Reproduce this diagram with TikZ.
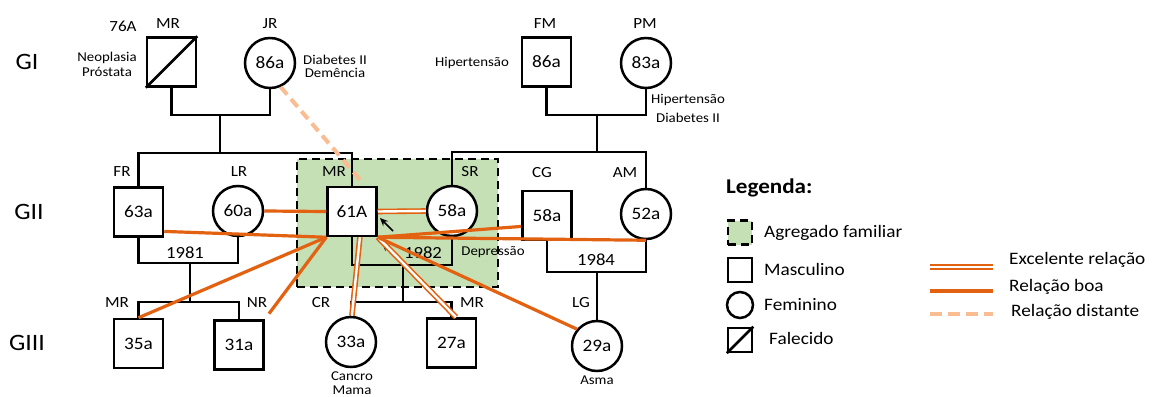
\documentclass[tikz,border=0pt]{standalone}
\usepackage{fontspec}
\setmainfont{Carlito}[FakeStretch=1.1]
\usetikzlibrary{arrows.meta}
\definecolor{rel}{RGB}{226,98,18}
\definecolor{peach}{RGB}{250,188,145}
\definecolor{agr}{RGB}{197,224,180}
\begin{document}
\begin{tikzpicture}[x=1pt,y=-1pt,
  fam/.style={line width=2.5pt},
  sq/.style={draw, line width=2.5pt, fill=white, minimum size=49pt, inner sep=0pt, font=\fontsize{17.5}{20}\selectfont},
  ci/.style={draw, circle, line width=2.5pt, fill=white, minimum size=50pt, inner sep=0pt, font=\fontsize{17.5}{20}\selectfont},
  agrbox/.style={draw, fill=agr, dash pattern=on 8pt off 5pt, line width=2.3pt, inner sep=0pt},
  lab/.style={font=\fontsize{15.5}{18}\selectfont, inner sep=0pt},
  gen/.style={font=\fontsize{23.5}{26}\selectfont, inner sep=0pt},
  note/.style={font=\fontsize{13.5}{16}\selectfont, align=center, inner sep=0pt},
  yr/.style={font=\fontsize{17}{20}\selectfont, inner sep=0pt},
  lt/.style={font=\fontsize{17.5}{20}\selectfont, anchor=west, inner sep=0pt},
  boa/.style={draw=rel, line width=3.2pt},
  exc/.style={draw=rel, line width=1.6pt, double=white, double distance=2.4pt},
  dist/.style={draw=peach, line width=4pt, dash pattern=on 10pt off 6pt},
  arr/.style={draw=black, line width=1.6pt, -{Stealth[length=8pt,width=7pt]}}
]
\fill[white] (0,0) rectangle (1153,396);
\useasboundingbox (0,0) rectangle (1153,396);

% household box
\node[agrbox, minimum width=201pt, minimum height=128pt] (agr) at (397.5,223) {};

% generation labels
\node[gen] (g1) at (27,62) {GI};
\node[gen] (g2) at (29,212) {GII};
\node[gen] (g3) at (27,343) {GIII};

% junction coordinates
\coordinate (u1) at (220,115); \coordinate (s1) at (220,153);
\coordinate (u2) at (597,115); \coordinate (s2) at (597,152);
\coordinate (u3) at (190,263); \coordinate (s3) at (190,302);
\coordinate (u4) at (403,265); \coordinate (s4) at (403,302);
\coordinate (u5) at (597,272);

% persons
\node[sq] (mr1) at (171.5,62) {};
\node[ci] (jr) at (270,63) {86a};
\node[sq] (fm) at (546.5,62) {86a};
\node[ci] (pm) at (646,63) {83a};
\node[sq] (fr) at (138.5,212) {63a};
\node[ci] (lr) at (238,211) {60a};
\node[sq] (mr2) at (352,211.5) {61A};
\node[ci] (sr) at (452,211) {58a};
\node[sq] (cg) at (547,215.5) {58a};
\node[ci] (am) at (646,214) {52a};
\node[sq] (n35) at (138.5,343.5) {35a};
\node[sq] (n31) at (239,345) {31a};
\node[ci] (c33) at (351,342) {33a};
\node[sq] (n27) at (451.5,343) {27a};
\node[ci] (lg) at (597,346) {29a};
\draw[fam] (mr1.south west) -- (mr1.north east);

% family lines
\draw[fam] (mr1.south) |- (u1) -| (jr.south);
\draw[fam] (u1) -- (s1);
\draw[fam] (fr.north) |- (s1) -| (mr2.north);
\draw[fam] (fm.south) |- (u2) -| (pm.south);
\draw[fam] (u2) -- (s2);
\draw[fam] (sr.north) |- (s2) -| (am.north);
\draw[fam] (fr.south) |- (u3) -| (lr.south);
\draw[fam] (u3) -- (s3);
\draw[fam] (n35.north) |- (s3) -| (n31.north);
\draw[fam] (mr2.south) |- (u4) -| (sr.south);
\draw[fam] (u4) -- (s4);
\draw[fam] (c33.north) |- (s4) -| (n27.north);
\draw[fam] (cg.south) |- (u5) -| (am.south);
\draw[fam] (u5) -- (lg.north);

% labels
\node[lab] (t76) at (123,26) {76A};
\node[lab] (tmr1) at (168,24) {MR};
\node[note] (tneo) at (107,64.5) {Neoplasia\\[-1pt]Próstata};
\node[lab] (tjr) at (270,24) {JR};
\node[note, font=\fontsize{13.5}{13}\selectfont] (tdia) at (335,66) {Diabetes II\\Demência};
\node[lab] (tfm) at (545,24) {FM};
\node[note] (thip) at (472,63) {Hipertensão};
\node[lab] (tpm) at (645,24) {PM};
\node[note, font=\fontsize{13.5}{18.5}\selectfont] (thd) at (688,108.5) {Hipertensão\\Diabetes II};
\node[lab] (tfr) at (122,172) {FR};
\node[lab] (tlr) at (239,172) {LR};
\node[lab] (tmr2) at (334,172) {MR};
\node[lab] (tsr) at (470,172) {SR};
\node[lab] (tcg) at (542,173) {CG};
\node[lab] (tam) at (625,173) {AM};
\node[yr] (y81) at (185,253) {1981};
\node[yr] (y82) at (423,253) {1982};
\node[yr] (y84) at (596,260) {1984};
\node[note] (tdep) at (493,252) {Depressão};
\node[lab] (tmr3) at (117,303) {MR};
\node[lab] (tnr) at (257,303) {NR};
\node[lab] (tcr) at (321,303) {CR};
\node[lab] (tmr4) at (472,303) {MR};
\node[lab] (tlg) at (581,303) {LG};
\node[note, font=\fontsize{13.5}{14.5}\selectfont] (tcan) at (352,383) {Cancro\\Mama};
\node[note] (tasm) at (597,380) {Asma};

% index arrows
\coordinate (a1s) at (393,231); \coordinate (a1e) at (380,218);
\coordinate (a2s) at (397,257); \coordinate (a2e) at (382,243);
\draw[arr] (a1s) -- (a1e);
\draw[arr] (a2s) -- (a2e);

% relations
\draw[dist, shorten >=6pt] (jr.-66) -- (mr2.63);
\draw[boa] (lr.east) -- (mr2.west);
\draw[exc] (mr2.east) -- (sr.west);
\draw[boa] (fr.-37) -- (mr2.south west);
\draw[boa] (mr2.south west) -- (n35.north);
\draw[boa, shorten >=7pt] (mr2.south west) -- (n31.north east);
\draw[exc] (mr2.-73) -- (c33.88);
\draw[exc] (mr2.south east) -- (n27.80);
\draw[boa] (mr2.south east) -- (lg.140);
\draw[boa] (mr2.south east) -- (cg.203);
\draw[boa] (mr2.south east) -- (am.south);

% legend
\node[font=\bfseries\fontsize{21}{24}\selectfont, anchor=west, inner sep=0pt] (leg) at (726,188) {Legenda:};
\node[agrbox, minimum size=24pt] (lagr) at (740,232.5) {};
\node[lt] (tagr) at (764,233) {Agregado familiar};
\node[sq, minimum size=24pt] (lsq) at (740,270) {};
\node[lt] (tmas) at (764,269) {Masculino};
\node[ci, minimum size=26pt] (lci) at (740,305) {};
\node[lt] (tfem) at (764,305) {Feminino};
\node[sq, minimum size=24pt] (lfa) at (740,340) {};
\draw[fam] (lfa.south west) -- (lfa.north east);
\node[lt] (tfal) at (769,338) {Falecido};
\coordinate (e1) at (930,267); \coordinate (e2) at (993,267);
\coordinate (b1) at (930,291); \coordinate (b2) at (993,291);
\coordinate (d1) at (930,314); \coordinate (d2) at (993,314);
\draw[exc] (e1) -- (e2);
\draw[boa] (b1) -- (b2);
\draw[dist, dash pattern=on 12pt off 6pt] (d1) -- (d2);
\node[lt] (texc) at (1009,260) {Excelente relação};
\node[lt] (tboa) at (1009,287) {Relação boa};
\node[lt] (tdis) at (1011,312) {Relação distante};
\end{tikzpicture}
\end{document}
